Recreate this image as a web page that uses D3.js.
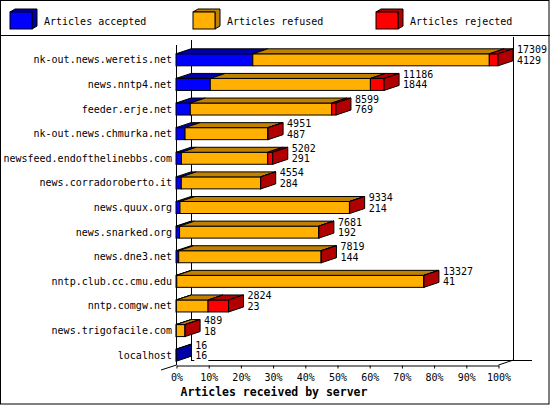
<!DOCTYPE html>
<html>
<head>
<meta charset="utf-8">
<script src="https://cdn.jsdelivr.net/npm/d3@7"></script>
<style>
  body { margin: 0; background: #fff; }
  svg { display: block; font-family: "DejaVu Sans Mono", monospace; }
</style>
</head>
<body>
<div id="chart"></div>
<script>
// servers, top to bottom
const hosts = ['nk-out.news.weretis.net', 'news.nntp4.net', 'feeder.erje.net',
  'nk-out.news.chmurka.net', 'newsfeed.endofthelinebbs.com', 'news.corradoroberto.it',
  'news.quux.org', 'news.snarked.org', 'news.dne3.net', 'nntp.club.cc.cmu.edu',
  'nntp.comgw.net', 'news.trigofacile.com', 'localhost'];
const totals   = [17309, 11186, 8599, 4951, 5202, 4554, 9334, 7681, 7819, 13327, 2824, 489, 16];
const accepted = [4129, 1844, 769, 487, 291, 284, 214, 192, 144, 41, 23, 18, 16];
const refused  = [12712, 8607, 7600, 4449, 4641, 4260, 9110, 7479, 7655, 13276, 1700, 466, 0];
const rejected = [468, 735, 230, 15, 270, 10, 10, 10, 20, 10, 1101, 5, 0];
const seriesNames = ['Articles accepted', 'Articles refused', 'Articles rejected'];
const pctTicks = [0, 10, 20, 30, 40, 50, 60, 70, 80, 90, 100];

const front = ['#0000ff', '#ffb000', '#ff0000'];
const dark  = ['#0000a8', '#c08000', '#b00000'];

const W = 550, H = 405;
const dx = 15, dy = 5, barH = 12;
const maxTotal = d3.max(totals);

const svg = d3.select('#chart').append('svg')
  .attr('width', W).attr('height', H);

svg.append('rect')
  .attr('x', 0.5).attr('y', 0.5).attr('width', W - 1.5).attr('height', H - 1.5)
  .attr('fill', '#fff').attr('stroke', '#000');

// legend
svg.append('line').attr('x1', 0).attr('x2', W).attr('y1', 35.5).attr('y2', 35.5)
  .attr('stroke', '#000');

const legend = svg.append('g').selectAll('g')
  .data(seriesNames)
  .join('g')
    .attr('transform', (d, i) => `translate(${10 + i * 183}, 12)`);

const lw = 22, lh = 17, ldx = 5, ldy = 3;
legend.append('polygon')
  .attr('points', `0,0 ${ldx},${-ldy} ${lw + ldx},${-ldy} ${lw + ldx},${lh - ldy} ${lw},${lh} ${lw},0`)
  .attr('fill', (d, i) => dark[i]).attr('stroke', '#000');
legend.append('rect')
  .attr('width', lw).attr('height', lh)
  .attr('fill', (d, i) => front[i]).attr('stroke', '#000');
legend.append('text')
  .attr('x', 34).attr('y', 9).attr('dy', '0.35em')
  .attr('font-size', 10)
  .text(d => d);

// scales
const x = d3.scaleLinear().domain([0, 100]).range([176, 498]);
const y = d3.scaleBand().domain(hosts).range([45, 365]);
const pct = v => v / maxTotal * 100;

// frame lines
const frame = svg.append('g').attr('stroke', '#000').attr('fill', 'none');
frame.append('line').attr('x1', 176.5).attr('x2', 176.5).attr('y1', 45).attr('y2', 365);
frame.append('line').attr('x1', 191.5).attr('x2', 191.5).attr('y1', 40).attr('y2', 360);
frame.append('line').attr('x1', 513.5).attr('x2', 513.5).attr('y1', 37).attr('y2', 360);
frame.append('line').attr('x1', 191).attr('x2', 532).attr('y1', 360.5).attr('y2', 360.5);
frame.append('line').attr('x1', 161).attr('x2', 176.5).attr('y1', 370).attr('y2', 365);
frame.append('line').attr('x1', 498.5).attr('x2', 513.5).attr('y1', 365).attr('y2', 360);

// x axis
const axis = svg.append('g')
  .attr('transform', 'translate(0.5, 365.5)')
  .call(d3.axisBottom(x).tickValues(pctTicks).tickFormat(d => d + '%')
    .tickSize(3).tickSizeOuter(0));
axis.selectAll('text')
  .attr('font-family', '"DejaVu Sans Mono", monospace')
  .attr('font-size', 10).attr('fill', '#000').attr('y', 8);
axis.selectAll('line, path').attr('stroke', '#000');

svg.append('text')
  .attr('x', 274).attr('y', 392).attr('dy', '0.35em')
  .attr('text-anchor', 'middle').attr('font-size', 11.5).attr('font-weight', 'bold')
  .text('Articles received by server');

// category labels
svg.append('g').selectAll('text')
  .data(hosts)
  .join('text')
    .attr('x', 172)
    .attr('y', d => y(d) + y.bandwidth() / 2 - 3.5 + barH / 2)
    .attr('dy', '0.35em')
    .attr('text-anchor', 'end')
    .attr('font-size', 10)
    .text(d => d);

// bars
const rows = hosts.map((h, i) => {
  const vals = [accepted[i], refused[i], rejected[i]];
  let acc = 0;
  const segs = vals.map((v, k) => {
    const s = { k, x0: x(pct(acc)), x1: x(pct(acc + v)), v };
    acc += v;
    return s;
  });
  const last = segs.filter(s => s.v > 0).pop() || segs[0];
  return { host: h, total: totals[i], acc: accepted[i], segs, last,
    top: y(h) + y.bandwidth() / 2 - 3.5, end: x(pct(acc)) };
});

const bars = svg.append('g').selectAll('g')
  .data(rows)
  .join('g');

bars.selectAll('rect')
  .data(d => d.segs.filter(s => s.v > 0).map(s => ({ ...s, top: d.top })))
  .join('rect')
    .attr('x', s => s.x0).attr('y', s => s.top)
    .attr('width', s => s.x1 - s.x0).attr('height', barH)
    .attr('fill', s => front[s.k]).attr('stroke', '#000');

bars.selectAll('polygon.top')
  .data(d => d.segs.filter(s => s.v > 0).map(s => ({ ...s, top: d.top })))
  .join('polygon')
    .attr('class', 'top')
    .attr('points', s => [[s.x0, s.top], [s.x1, s.top], [s.x1 + dx, s.top - dy], [s.x0 + dx, s.top - dy]].join(' '))
    .attr('fill', s => dark[s.k]).attr('stroke', '#000');

bars.append('polygon')
  .attr('points', d => [[d.end, d.top], [d.end + dx, d.top - dy], [d.end + dx, d.top + barH - dy], [d.end, d.top + barH]].join(' '))
  .attr('fill', d => dark[d.last.k]).attr('stroke', '#000');

// value labels: total on first line, accepted on second
const labels = bars.append('g')
  .attr('transform', d => `translate(${d.end + dx + 4}, ${d.top})`)
  .attr('font-size', 10);
labels.append('rect')
  .attr('x', -1).attr('y', -9)
  .attr('width', d => Math.max(String(d.total).length, String(d.acc).length) * 6 + 2)
  .attr('height', 21).attr('fill', '#fff');
labels.append('text').attr('y', -4).attr('dy', '0.35em').text(d => d.total);
labels.append('text').attr('y', 6.5).attr('dy', '0.35em').text(d => d.acc);
</script>
</body>
</html>
